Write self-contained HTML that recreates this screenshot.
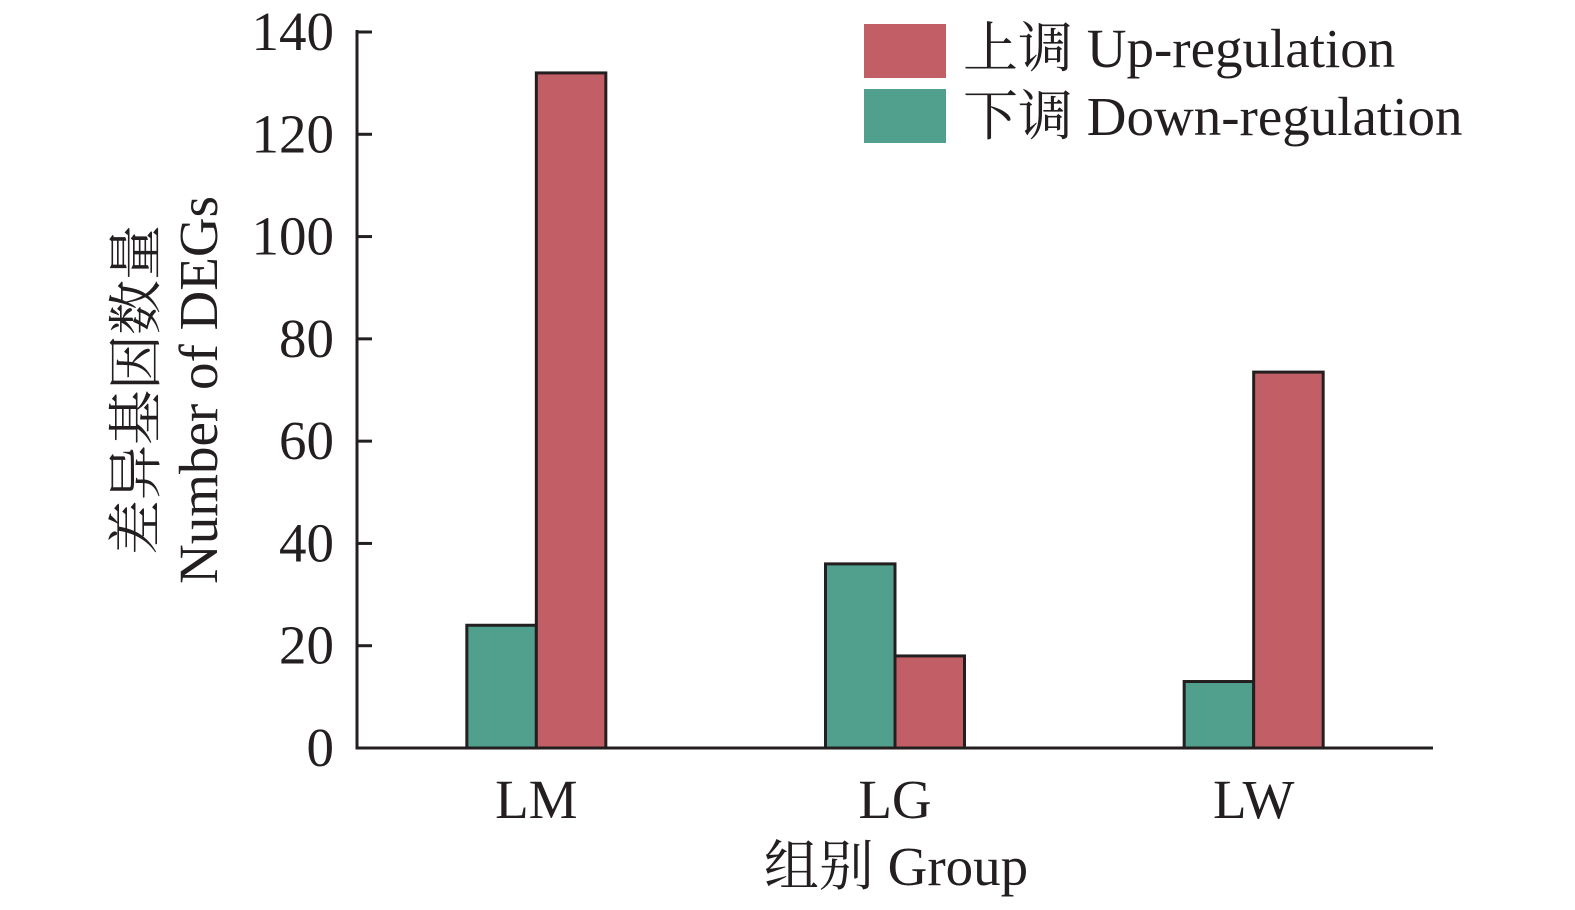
<!DOCTYPE html>
<html><head><meta charset="utf-8"><style>
html,body{margin:0;padding:0;background:#fff;}
svg text{font-family:"Liberation Serif","Noto Serif CJK SC",serif;fill:#231f20;}
</style></head><body>
<svg id="chart" width="1575" height="905" viewBox="0 0 1575 905" xmlns="http://www.w3.org/2000/svg">
<g id="bars"></g>
<g id="axes"></g>
<g>
  <rect x="864" y="24" width="82" height="54" fill="#c25f66"/>
  <text x="963" y="67" font-size="55">上调 Up-regulation</text>
  <rect x="864" y="89" width="82" height="54" fill="#50a08d"/>
  <text x="963" y="135" font-size="55">下调 Down-regulation</text>
</g>
<g transform="translate(0,390) rotate(-90)">
  <text x="0" y="155" font-size="55" text-anchor="middle">差异基因数量</text>
  <text x="0" y="217" font-size="55" text-anchor="middle">Number of DEGs</text>
</g>
<text x="896" y="885" font-size="55" text-anchor="middle">组别 Group</text>
</svg>
<script>
const categories = ["LM","LG","LW"];
const downValues = [24, 36, 13];
const upValues = [132, 18, 73.5];
const yTicks = [0,20,40,60,80,100,120,140];

const NS = "http://www.w3.org/2000/svg";
const x0 = 357, x1 = 1433, yBase = 748, yTop = 32, yMax = 140;
const band = (x1 - x0) / categories.length;
const barW = 69.5;
function yScale(v){ return yBase - (v / yMax) * (yBase - yTop); }
function xCenter(i){ return x0 + band * (i + 0.5); }
function mk(tag, attrs, parent){ const e = document.createElementNS(NS, tag); for (const k in attrs) e.setAttribute(k, attrs[k]); parent.appendChild(e); return e; }

const bars = document.getElementById("bars");
categories.forEach((c, i) => {
  const cx = xCenter(i);
  const d = mk("rect", {x: cx - barW, y: yScale(downValues[i]), width: barW, height: yBase - yScale(downValues[i]), fill: "#50a08d", stroke: "#231f20", "stroke-width": 3}, bars);
  
  
  const u = mk("rect", {x: cx, y: yScale(upValues[i]), width: barW, height: yBase - yScale(upValues[i]), fill: "#c25f66", stroke: "#231f20", "stroke-width": 3}, bars);
  
  
  const t = mk("text", {x: cx, y: 818, "font-size": 55, "text-anchor": "middle"}, bars);
  t.textContent = c;
  
  
});

const axes = document.getElementById("axes");
const ya = mk("line", {x1: x0, y1: yTop - 2, x2: x0, y2: yBase + 1.5, stroke: "#231f20", "stroke-width": 3}, axes);


const xa = mk("line", {x1: x0 - 1.5, y1: yBase, x2: x1, y2: yBase, stroke: "#231f20", "stroke-width": 3}, axes);


yTicks.forEach(v => {
  const y = yScale(v);
  const tk = mk("line", {x1: x0, y1: y, x2: x0 + 15, y2: y, stroke: "#231f20", "stroke-width": 3}, axes);
  
  
  const lb = mk("text", {x: 334, y: y + 18, "font-size": 55, "text-anchor": "end"}, axes);
  lb.textContent = v;
  
  
});
</script>
</body></html>
